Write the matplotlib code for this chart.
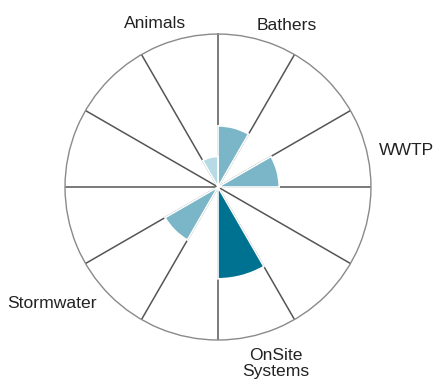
import matplotlib.pyplot as plt
import numpy as np

plt.rcParams['font.family'] = ['Liberation Sans', 'DejaVu Sans']

# data
categories = ['Bathers', 'WWTP', 'OnSite\nSystems', 'Stormwater', 'Animals']
sector_deg = [15, 75, 165, 225, 345]     # sector centre, clockwise from top
values = [2, 2, 3, 2, 1]
colors = ['#7ab6c7', '#7ab6c7', '#007291', '#7ab6c7', '#b6dbe4']

# where the labels sit (theta deg, r)
label_pos = [(23, 5.73), (79, 6.26), (162, 6.07), (235, 6.61), (339, 5.74)]

fig = plt.figure(figsize=(4.38, 3.81), dpi=100)
ax = fig.add_axes([0.1484, 0.1076, 0.6986, 0.803], projection='polar')
ax.set_theta_zero_location('N')
ax.set_theta_direction(-1)

theta = np.deg2rad(sector_deg)
ax.bar(theta, values, width=np.deg2rad(30), color=colors,
       edgecolor='white', linewidth=1.2, zorder=3)

ax.set_ylim(0, 5)
ax.set_yticks([])
ax.set_xticks(np.deg2rad(np.arange(0, 360, 30)))
ax.set_xticklabels([])
ax.tick_params(axis='x', length=0)
ax.xaxis.grid(True, color='#555555', linewidth=1.1)
ax.yaxis.grid(False)
ax.spines['polar'].set_color('#8a8a8a')
ax.spines['polar'].set_linewidth(1.0)

for name, (t, r) in zip(categories, label_pos):
    ax.text(np.deg2rad(t), r, name, ha='center', va='center', fontsize=12.6,
            color='#222222', clip_on=False, linespacing=1.05)

fig.savefig('out.png', dpi=100)
